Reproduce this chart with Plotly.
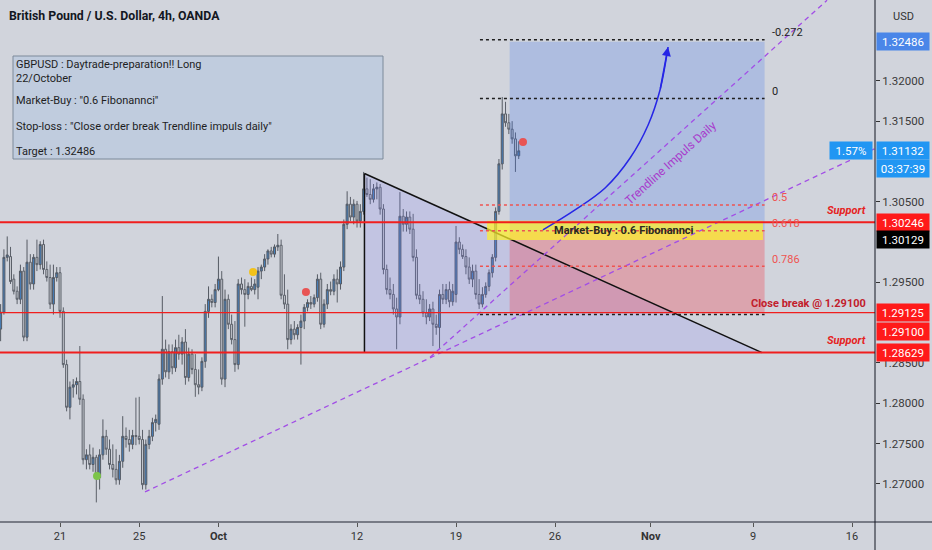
import pandas as pd
import plotly.graph_objects as go

# GBPUSD 4h candles, 16 Sep - 22 Oct 2020 (one trading day per row)
opens = [
    1.2892, 1.2913, 1.2981, 1.2982, 1.2954, 1.2939,
    1.2929, 1.2964, 1.2882, 1.2975, 1.2948, 1.2981,
    1.2972, 1.2997, 1.2966, 1.2956, 1.2923, 1.2956,
    1.2962, 1.2914, 1.2848, 1.2795, 1.2820, 1.2823,
    1.2827, 1.2805, 1.2730, 1.2736, 1.2724, 1.2733,
    1.2708, 1.2736, 1.2759, 1.2743, 1.2724, 1.2718,
    1.2705, 1.2728, 1.2759, 1.2755, 1.2749, 1.2760,
    1.2759, 1.2755, 1.2699, 1.2749, 1.2759, 1.2776,
    1.2774, 1.2830, 1.2867, 1.2839, 1.2864, 1.2844,
    1.2869, 1.2861, 1.2876, 1.2832, 1.2861, 1.2842,
    1.2823, 1.2820, 1.2852, 1.2914, 1.2929, 1.2925,
    1.2941, 1.2954, 1.2830, 1.2929, 1.2898, 1.2879,
    1.2848, 1.2948, 1.2941, 1.2935, 1.2945, 1.2941,
    1.2944, 1.2964, 1.2969, 1.2979, 1.2989, 1.2985,
    1.2994, 1.2996, 1.2934, 1.2923, 1.2879, 1.2892,
    1.2885, 1.2894, 1.2902, 1.2919, 1.2925, 1.2923,
    1.2931, 1.2954, 1.2898, 1.2923, 1.2941, 1.2939,
    1.2954, 1.2948, 1.2969, 1.3022, 1.3047, 1.3031,
    1.3047, 1.3026, 1.3038, 1.3066, 1.3059, 1.3053,
    1.3066, 1.3068, 1.3041, 1.2966, 1.2941, 1.2935,
    1.2917, 1.2907, 1.3032, 1.3022, 1.3031, 1.3016,
    1.2981, 1.2934, 1.2929, 1.2912, 1.2907, 1.2917,
    1.2898, 1.2894, 1.2935, 1.2929, 1.2941, 1.2926,
    1.2935, 1.3000, 1.2991, 1.2982, 1.2969, 1.2954,
    1.2964, 1.2935, 1.2923, 1.2935, 1.2945, 1.2962,
    1.2981, 1.3038, 1.3097, 1.3159, 1.3148, 1.3140,
    1.3128, 1.3107,
]
highs = [
    1.2923, 1.2991, 1.3007, 1.2994, 1.2960, 1.2945,
    1.2972, 1.2969, 1.3003, 1.2985, 1.2985, 1.3003,
    1.3001, 1.3003, 1.2976, 1.2972, 1.2972, 1.2969,
    1.2969, 1.2919, 1.2854, 1.2827, 1.2830, 1.2832,
    1.2871, 1.2811, 1.2743, 1.2749, 1.2745, 1.2736,
    1.2743, 1.2780, 1.2767, 1.2755, 1.2749, 1.2743,
    1.2736, 1.2784, 1.2770, 1.2767, 1.2767, 1.2807,
    1.2808, 1.2767, 1.2755, 1.2767, 1.2782, 1.2786,
    1.2836, 1.2933, 1.2879, 1.2873, 1.2873, 1.2879,
    1.2885, 1.2882, 1.2892, 1.2869, 1.2867, 1.2861,
    1.2842, 1.2857, 1.2923, 1.2945, 1.2935, 1.2948,
    1.2982, 1.2964, 1.2941, 1.2935, 1.2910, 1.2902,
    1.2954, 1.2956, 1.2954, 1.2950, 1.2956, 1.2954,
    1.2969, 1.2972, 1.2985, 1.2991, 1.2994, 1.2997,
    1.3010, 1.3003, 1.2960, 1.2941, 1.2898, 1.2902,
    1.2898, 1.2910, 1.2923, 1.2929, 1.2933, 1.2935,
    1.2960, 1.2962, 1.2929, 1.2948, 1.2951, 1.2960,
    1.2966, 1.2976, 1.3028, 1.3063, 1.3056, 1.3053,
    1.3051, 1.3047, 1.3087, 1.3080, 1.3078, 1.3072,
    1.3074, 1.3072, 1.3047, 1.2972, 1.2956, 1.2948,
    1.2931, 1.3062, 1.3041, 1.3038, 1.3038, 1.3035,
    1.2991, 1.2948, 1.2939, 1.2929, 1.2923, 1.2926,
    1.2910, 1.2941, 1.2948, 1.2948, 1.2951, 1.2948,
    1.3020, 1.3006, 1.2997, 1.2991, 1.2981, 1.2972,
    1.2972, 1.2954, 1.2944, 1.2950, 1.2966, 1.2985,
    1.3043, 1.3103, 1.3180, 1.3174, 1.3159, 1.3150,
    1.3136, 1.3125,
]
lows = [
    1.2877, 1.2910, 1.2976, 1.2948, 1.2935, 1.2923,
    1.2923, 1.2877, 1.2877, 1.2941, 1.2941, 1.2964,
    1.2966, 1.2960, 1.2951, 1.2917, 1.2910, 1.2951,
    1.2906, 1.2844, 1.2790, 1.2780, 1.2807, 1.2811,
    1.2798, 1.2724, 1.2718, 1.2718, 1.2715, 1.2677,
    1.2693, 1.2730, 1.2736, 1.2718, 1.2708, 1.2699,
    1.2699, 1.2720, 1.2745, 1.2740, 1.2743, 1.2748,
    1.2749, 1.2693, 1.2693, 1.2743, 1.2753, 1.2765,
    1.2767, 1.2823, 1.2832, 1.2830, 1.2836, 1.2839,
    1.2854, 1.2848, 1.2823, 1.2827, 1.2836, 1.2808,
    1.2811, 1.2815, 1.2844, 1.2906, 1.2919, 1.2919,
    1.2939, 1.2823, 1.2820, 1.2892, 1.2873, 1.2839,
    1.2842, 1.2935, 1.2895, 1.2929, 1.2939, 1.2935,
    1.2929, 1.2954, 1.2964, 1.2972, 1.2981, 1.2981,
    1.2989, 1.2929, 1.2917, 1.2867, 1.2873, 1.2879,
    1.2879, 1.2848, 1.2892, 1.2914, 1.2917, 1.2919,
    1.2926, 1.2892, 1.2894, 1.2917, 1.2934, 1.2934,
    1.2925, 1.2941, 1.2964, 1.3016, 1.3026, 1.3022,
    1.3018, 1.3018, 1.3034, 1.3056, 1.3047, 1.3049,
    1.3053, 1.3034, 1.2960, 1.2935, 1.2929, 1.2910,
    1.2867, 1.2898, 1.3013, 1.3013, 1.3010, 1.2976,
    1.2929, 1.2923, 1.2907, 1.2898, 1.2902, 1.2871,
    1.2885, 1.2867, 1.2923, 1.2923, 1.2919, 1.2921,
    1.2925, 1.2985, 1.2979, 1.2960, 1.2948, 1.2944,
    1.2929, 1.2917, 1.2919, 1.2931, 1.2939, 1.2956,
    1.2976, 1.3034, 1.3090, 1.3143, 1.3134, 1.3122,
    1.3087, 1.3103,
]
closes = [
    1.2913, 1.2981, 1.2984, 1.2951, 1.2939, 1.2929,
    1.2964, 1.2882, 1.2975, 1.2948, 1.2981, 1.2972,
    1.2997, 1.2966, 1.2956, 1.2923, 1.2956, 1.2962,
    1.2914, 1.2848, 1.2795, 1.2820, 1.2823, 1.2827,
    1.2805, 1.2730, 1.2736, 1.2724, 1.2733, 1.2708,
    1.2736, 1.2759, 1.2743, 1.2724, 1.2718, 1.2705,
    1.2728, 1.2759, 1.2755, 1.2749, 1.2760, 1.2759,
    1.2755, 1.2699, 1.2749, 1.2759, 1.2776, 1.2780,
    1.2830, 1.2867, 1.2839, 1.2864, 1.2844, 1.2869,
    1.2861, 1.2876, 1.2832, 1.2861, 1.2842, 1.2823,
    1.2820, 1.2852, 1.2914, 1.2929, 1.2925, 1.2941,
    1.2954, 1.2830, 1.2929, 1.2898, 1.2879, 1.2848,
    1.2948, 1.2941, 1.2935, 1.2945, 1.2941, 1.2948,
    1.2964, 1.2969, 1.2979, 1.2989, 1.2985, 1.2994,
    1.2996, 1.2934, 1.2923, 1.2879, 1.2892, 1.2885,
    1.2894, 1.2902, 1.2919, 1.2925, 1.2923, 1.2931,
    1.2954, 1.2898, 1.2923, 1.2941, 1.2939, 1.2954,
    1.2948, 1.2969, 1.3022, 1.3047, 1.3031, 1.3047,
    1.3026, 1.3038, 1.3066, 1.3059, 1.3053, 1.3066,
    1.3068, 1.3041, 1.2966, 1.2941, 1.2935, 1.2917,
    1.2907, 1.3032, 1.3022, 1.3031, 1.3016, 1.2981,
    1.2934, 1.2929, 1.2912, 1.2907, 1.2917, 1.2898,
    1.2894, 1.2935, 1.2929, 1.2941, 1.2926, 1.2939,
    1.3000, 1.2991, 1.2982, 1.2969, 1.2954, 1.2964,
    1.2935, 1.2923, 1.2935, 1.2945, 1.2962, 1.2981,
    1.3038, 1.3097, 1.3159, 1.3148, 1.3140, 1.3128,
    1.3107, 1.31132,
]

# one bar every 4 hours on weekdays, starting 16 Sep 2020
days = pd.bdate_range("2020-09-16", "2020-10-22")
bar_times = [d + pd.Timedelta(hours=4 * k) for d in days for k in range(6)][:len(opens)]

# x axis
x_range = ["2020-09-15 23:15", "2020-11-17 03:50"]
tick_dates = ["2020-09-21", "2020-09-25", "2020-10-01", "2020-10-12", "2020-10-19",
              "2020-10-26", "2020-10-30 20:00", "2020-11-09", "2020-11-16"]
tick_text = ["21", "25", "<b>Oct</b>", "12", "19", "26", "<b>Nov</b>", "9", "16"]

# y axis (ticks hidden behind the price tags are left out)
y_range = [1.26527, 1.33003]
price_ticks = [1.27, 1.275, 1.28, 1.285, 1.295, 1.305, 1.315, 1.32]

# horizontal levels
support_hi = 1.30246
stop_line = 1.29125
support_lo = 1.28629
close_break = 1.29100

# long position tool
pos_x = ["2020-10-21 17:00", "2020-11-09 14:00"]
target = 1.32486
entry = 1.30129
stop = 1.29125
last_price = 1.31132

# market-buy zone
buy_x = ["2020-10-20 13:40", "2020-11-09 12:00"]
buy_y = [1.30026, 1.30265]

# fibonacci retracement
fib_x = ["2020-10-20 05:00", "2020-11-09 14:00"]
fib_labels = ["-0.272", "0", "0.5", "0.618", "0.786", "1"]
fib_prices = [1.3251, 1.3178, 1.3046, 1.3014, 1.2970, 1.2910]
fib_colors = ["#1f1f1f", "#1f1f1f", "#ef5350", "#ef5350", "#ef5350", "#1f1f1f"]

# triangle drawing
tri_x = ["2020-10-12 09:00", "2020-10-12 09:00", "2020-11-09 10:50"]
tri_y = [1.3085, 1.28629, 1.28629]

# dashed trend lines
trend_x = ["2020-09-25 07:00", "2020-11-17 03:50"]
trend_y = [1.2690, 1.3116]
impulse_x = ["2020-10-15 16:30", "2020-11-12 17:45"]
impulse_y = [1.2857, 1.3300]

# blue projection arrow
arrow_x = ["2020-10-23 09:20", "2020-10-27 00:15", "2020-10-28 12:40", "2020-10-29 19:00",
           "2020-10-30 16:50", "2020-11-02 07:15", "2020-11-02 17:00"]
arrow_y = [1.30150, 1.30398, 1.30671, 1.31043, 1.31453, 1.31887, 1.32420]

# signal dots
dot_x = ["2020-09-22 20:50", "2020-10-02 18:00", "2020-10-07 10:05", "2020-10-22 09:10"]
dot_y = [1.27098, 1.29629, 1.29381, 1.31242]
dot_colors = ["#7cc44a", "#f2c21b", "#e85454", "#e85454"]

BG = "#d1d4dc"
PURPLE = "#a24ee6"


def box(xs, ys):
    return [xs[0], xs[1], xs[1], xs[0], xs[0]], [ys[0], ys[0], ys[1], ys[1], ys[0]]


fig = go.Figure()

fig.add_trace(go.Candlestick(
    x=bar_times, open=opens, high=highs, low=lows, close=closes,
    increasing=dict(line=dict(color="#555a63", width=1), fillcolor="#4680bd"),
    decreasing=dict(line=dict(color="#5b6069", width=1), fillcolor="#c6c9d0"),
    whiskerwidth=0, hoverinfo="skip",
))

# triangle fill
fig.add_trace(go.Scatter(x=tri_x + tri_x[:1], y=tri_y + tri_y[:1], fill="toself",
                         fillcolor="rgba(130,130,255,0.18)", line=dict(width=0), mode="lines"))

# profit / loss zones
bx, by = box(pos_x, [entry, target])
fig.add_trace(go.Scatter(x=bx, y=by, fill="toself", fillcolor="rgba(50,110,240,0.22)",
                         line=dict(width=0), mode="lines"))
bx, by = box(pos_x, [stop, entry])
fig.add_trace(go.Scatter(x=bx, y=by, fill="toself", fillcolor="rgba(242,54,69,0.3)",
                         line=dict(width=0), mode="lines"))

# triangle outline
fig.add_trace(go.Scatter(x=tri_x[:2], y=tri_y[:2], mode="lines", line=dict(color="#111", width=1.5)))
fig.add_trace(go.Scatter(x=[tri_x[0], tri_x[2]], y=[tri_y[0], tri_y[2]], mode="lines",
                         line=dict(color="#111", width=1.5)))

# market-buy zone
bx, by = box(buy_x, buy_y)
fig.add_trace(go.Scatter(x=bx, y=by, fill="toself", fillcolor="rgba(255,240,40,0.72)",
                         line=dict(width=0), mode="lines"))

# dashed purple trend lines
fig.add_trace(go.Scatter(x=trend_x, y=trend_y, mode="lines",
                         line=dict(color=PURPLE, width=1.3, dash="5px,4px")))
fig.add_trace(go.Scatter(x=impulse_x, y=impulse_y, mode="lines",
                         line=dict(color=PURPLE, width=1.3, dash="5px,4px")))

# projection curve
fig.add_trace(go.Scatter(x=arrow_x, y=arrow_y, mode="lines",
                         line=dict(color="#2626e6", width=1.5, shape="spline")))

fig.add_trace(go.Scatter(x=dot_x, y=dot_y, mode="markers",
                         marker=dict(color=dot_colors, size=8, line=dict(width=0))))

shapes = []
# fib levels
for p, c in zip(fib_prices, fib_colors):
    shapes.append(dict(type="line", xref="x", yref="y", x0=fib_x[0], x1=fib_x[1], y0=p, y1=p,
                       line=dict(color=c, width=1.5, dash="dot"), layer="above"))
# full width red levels
for p, w in [(support_hi, 2), (stop_line, 1.2), (support_lo, 2)]:
    shapes.append(dict(type="line", xref="paper", yref="y", x0=0, x1=1, y0=p, y1=p,
                       line=dict(color="#f01e1e", width=w), layer="above"))
# info box
shapes.append(dict(type="rect", xref="paper", yref="paper", x0=13 / 875, x1=383 / 875,
                   y0=1 - 159 / 522, y1=1 - 56 / 522, fillcolor="rgba(170,195,225,0.45)",
                   line=dict(color="#7d8a9a", width=1), layer="above"))
# axis frame lines
shapes.append(dict(type="line", xref="paper", yref="paper", x0=0, x1=932 / 875, y0=0, y1=0,
                   line=dict(color="#787b86", width=2)))
shapes.append(dict(type="line", xref="paper", yref="paper", x0=1, x1=1, y0=-28 / 522, y1=1,
                   line=dict(color="#131722", width=1)))

ann = []
ann.append(dict(xref="paper", yref="paper", x=7 / 875, y=1 - 16 / 522, xanchor="left",
                yanchor="middle", showarrow=False, text="<b>British Pound / U.S. Dollar, 4h, OANDA</b>",
                font=dict(family="Roboto", size=12.3, color="#131722")))
ann.append(dict(xref="paper", yref="paper", x=903 / 875, y=1 - 16 / 522, xanchor="center",
                yanchor="middle", showarrow=False, text="USD",
                font=dict(family="Roboto", size=11, color="#333")))

info_lines = ["GBPUSD : Daytrade-preparation!! Long", "22/October", 'Market-Buy : "0.6 Fibonannci"',
              'Stop-loss : "Close order break Trendline impuls daily"', "Target : 1.32486"]
info_rows = [65, 78, 101, 126, 151]
for t, r in zip(info_lines, info_rows):
    ann.append(dict(xref="paper", yref="paper", x=14 / 875, y=1 - r / 522, xanchor="left",
                    yanchor="middle", showarrow=False, text=t,
                    font=dict(family="Roboto", size=11, color="#1e1e1e")))

for lab, p, c in zip(fib_labels[:5], fib_prices[:5], fib_colors[:5]):
    ann.append(dict(xref="x", yref="y", x=fib_x[1], y=p, xanchor="left", yanchor="middle",
                    xshift=5, yshift=7, showarrow=False, text=lab,
                    font=dict(family="Roboto", size=11, color=c)))

ann.append(dict(xref="x", yref="y", x="2020-10-29 12:00", y=sum(buy_y) / 2, showarrow=False,
                text="<b>Market-Buy : 0.6 Fibonannci</b>", xanchor="center", yanchor="middle",
                font=dict(family="Roboto", size=11, color="#2a2a20")))

ann.append(dict(xref="x", yref="y", x="2020-11-02 14:00", y=1.31043, showarrow=False,
                text="Trendline Impuls Daily", textangle=-42, xshift=5, yshift=-5,
                font=dict(family="Roboto", size=12, color="#a83ccc")))

for p in [support_hi, support_lo]:
    ann.append(dict(xref="paper", yref="y", x=868 / 875, y=p, xanchor="right", yanchor="middle",
                    yshift=12, showarrow=False, text="<b><i>Support</i></b>",
                    font=dict(family="Roboto", size=11, color="#e52222")))
ann.append(dict(xref="paper", yref="y", x=868 / 875, y=stop_line, xanchor="right", yanchor="middle",
                yshift=9, showarrow=False, text="<b>Close break @ 1.29100</b>",
                font=dict(family="Roboto", size=11, color="#c2202c")))

# arrow head
ann.append(dict(xref="x", yref="y", x=arrow_x[-1], y=arrow_y[-1], ax=-8, ay=43, showarrow=True,
                arrowhead=2, arrowsize=1.2, arrowwidth=1.5, arrowcolor="#2626e6", text=""))


def price_tag(p, text, bg, yshift=0):
    return dict(xref="paper", yref="y", x=1, y=p, xanchor="left", yanchor="middle", xshift=1,
                yshift=yshift, showarrow=False, text=text, bgcolor=bg, width=50, height=15,
                font=dict(family="Roboto", size=11.5, color="white"))


ann.append(price_tag(target, "1.32486", "#4a86e8"))
ann.append(price_tag(last_price, "1.31132", "#2196f3"))
ann.append(price_tag(last_price, "03:37:39", "#2196f3", yshift=-18))
ann.append(price_tag(support_hi, "1.30246", "#ff1a1a"))
ann.append(price_tag(entry, "1.30129", "#000000", yshift=-8))
ann.append(price_tag(stop_line, "1.29125", "#ff1a1a"))
ann.append(price_tag(close_break, "1.29100", "#ff1a1a", yshift=-17))
ann.append(price_tag(support_lo, "1.28629", "#ff1a1a"))
ann.append(dict(xref="paper", yref="y", x=1, y=last_price, xanchor="right", yanchor="middle", xshift=-2,
                showarrow=False, text="1.57%", bgcolor="#2196f3", width=40, height=15,
                font=dict(family="Roboto", size=11.5, color="white")))

fig.update_layout(
    width=932, height=550,
    margin=dict(l=0, r=57, t=0, b=28),
    paper_bgcolor=BG, plot_bgcolor=BG,
    showlegend=False, boxgap=0.15,
    font=dict(family="Roboto", size=11, color="#333"),
    shapes=shapes, annotations=ann,
    xaxis=dict(type="date", range=x_range, rangebreaks=[dict(bounds=["sat", "mon"])],
               tickvals=tick_dates, ticktext=tick_text, ticks="outside", ticklen=4,
               tickcolor="#555", showgrid=False, zeroline=False, showline=False,
               rangeslider=dict(visible=False), tickfont=dict(size=11, color="#333")),
    yaxis=dict(side="right", range=y_range, tickvals=price_ticks, tickformat=".5f",
               ticks="outside", ticklen=4, tickcolor="#333", showline=False, showgrid=False,
               zeroline=False, tickfont=dict(size=11.5, color="#3a3a3a")),
)

# page without the default body margin so the 932x550 figure fills the window
fig.write_html("out.html", config={"displayModeBar": False},
               post_script="document.body.style.margin='0';document.body.style.overflow='hidden';")
